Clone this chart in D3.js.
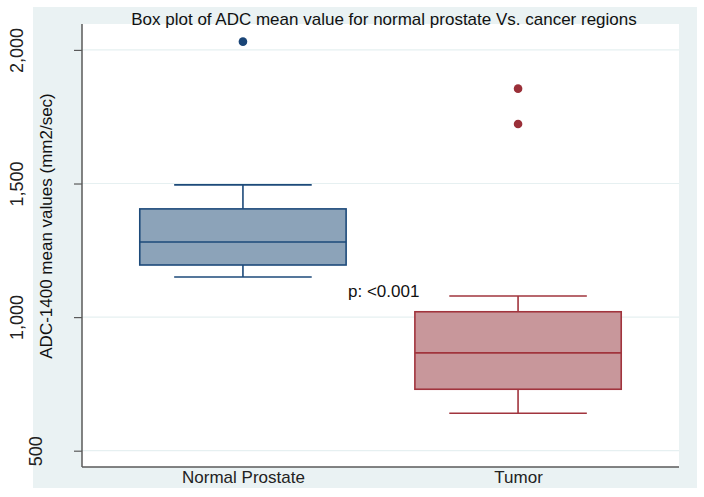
<!DOCTYPE html>
<html>
<head>
<meta charset="utf-8">
<script src="https://cdn.jsdelivr.net/npm/d3@7"></script>
<style>
  html, body { margin: 0; padding: 0; background: #ffffff; }
  svg { display: block; font-family: "Liberation Sans", Arial, sans-serif; }
</style>
</head>
<body>
<svg id="chart" width="704" height="497"></svg>
<script>
// ---- Data ----
const categories = ["Normal Prostate", "Tumor"];
const whiskerLow  = [1150, 640];
const q1          = [1195, 730];
const median      = [1281, 866];
const q3          = [1405, 1020];
const whiskerHigh = [1495, 1079];
const outliers    = [[2031], [1855, 1723]];
const yTicks      = [500, 1000, 1500, 2000];
const title = "Box plot of ADC mean value for normal prostate Vs. cancer regions";
const yTitle = "ADC-1400 mean values (mm2/sec)";
const annotation = "p: <0.001";

// ---- Styles ----
const fills   = ["#8ca3b9", "#c8979b"];
const strokes = ["#1d4a7a", "#a1343d"];
const dotCols = ["#1a4577", "#9a2f38"];

const svg = d3.select("#chart");
const plot = { left: 82, right: 679, top: 24, bottom: 467 };

// outer panel
svg.append("rect").attr("x", 33).attr("y", 7).attr("width", 664).attr("height", 481)
  .attr("fill", "#eaf2f3");
svg.append("rect").attr("x", plot.left).attr("y", plot.top)
  .attr("width", plot.right - plot.left).attr("height", plot.bottom - plot.top)
  .attr("fill", "#ffffff");

const y = d3.scaleLinear().domain([439, 2097]).range([plot.bottom, plot.top]);
const x = d3.scalePoint().domain(categories).range([plot.left, plot.right]).padding(0.585);
const step = x.step();
const boxW = step * 0.75, capW = step * 0.5;

// gridlines
svg.append("g").selectAll("line").data(yTicks).join("line")
  .attr("x1", plot.left).attr("x2", plot.right)
  .attr("y1", d => y(d)).attr("y2", d => y(d))
  .attr("stroke", "#e6f0f1").attr("stroke-width", 1.2);

// y axis
const yAxis = d3.axisLeft(y).tickValues(yTicks).tickSize(8).tickFormat(d3.format(","));
const gy = svg.append("g").attr("transform", `translate(${plot.left},0)`).call(yAxis);
gy.select(".domain").attr("stroke", "#5a5a5a").attr("stroke-width", 1.5)
  .attr("d", `M0,${plot.top}V${plot.bottom}`);
gy.selectAll(".tick line").attr("stroke", "#5a5a5a").attr("stroke-width", 1.2);
gy.selectAll(".tick text")
  .attr("font-size", 18).attr("fill", "#222")
  .attr("text-anchor", "middle")
  .attr("transform", d => `translate(${(String(d).length > 3 ? 23 : 42) - plot.left},0) rotate(-90)`)
  .attr("x", 0).attr("y", 0).attr("dy", 0);

// x axis
const xAxis = d3.axisBottom(x).tickSize(0).tickPadding(0);
const gx = svg.append("g").attr("transform", `translate(0,${plot.bottom})`).call(xAxis);
gx.select(".domain").attr("stroke", "#5a5a5a").attr("stroke-width", 1.5)
  .attr("d", `M${plot.left},0H${plot.right}`);
gx.selectAll(".tick text").attr("font-size", 17).attr("fill", "#222")
  .attr("y", 15.5).attr("dy", 0);

// boxes
const g = svg.append("g");
categories.forEach((c, i) => {
  const cx = x(c);
  const sw = 1.6;
  g.append("line").attr("x1", cx).attr("x2", cx).attr("y1", y(whiskerHigh[i])).attr("y2", y(q3[i]))
    .attr("stroke", strokes[i]).attr("stroke-width", sw);
  g.append("line").attr("x1", cx).attr("x2", cx).attr("y1", y(q1[i])).attr("y2", y(whiskerLow[i]))
    .attr("stroke", strokes[i]).attr("stroke-width", sw);
  [whiskerHigh[i], whiskerLow[i]].forEach(v => {
    g.append("line").attr("x1", cx - capW / 2).attr("x2", cx + capW / 2)
      .attr("y1", y(v)).attr("y2", y(v)).attr("stroke", strokes[i]).attr("stroke-width", sw);
  });
  g.append("rect").attr("x", cx - boxW / 2).attr("width", boxW)
    .attr("y", y(q3[i])).attr("height", y(q1[i]) - y(q3[i]))
    .attr("fill", fills[i]).attr("stroke", strokes[i]).attr("stroke-width", sw);
  g.append("line").attr("x1", cx - boxW / 2).attr("x2", cx + boxW / 2)
    .attr("y1", y(median[i])).attr("y2", y(median[i]))
    .attr("stroke", strokes[i]).attr("stroke-width", sw);
  g.selectAll(null).data(outliers[i]).join("circle")
    .attr("cx", cx).attr("cy", d => y(d)).attr("r", 4.3).attr("fill", dotCols[i]);
});

// title
svg.append("text").attr("x", 384).attr("y", 25).attr("text-anchor", "middle")
  .attr("font-size", 17).attr("fill", "#111").text(title);

// y title
svg.append("text").attr("transform", `translate(52,226) rotate(-90)`)
  .attr("text-anchor", "middle").attr("font-size", 17).attr("fill", "#111").text(yTitle);

// annotation
svg.append("text").attr("x", 348).attr("y", 297).attr("font-size", 17)
  .attr("fill", "#111").text(annotation);
</script>
</body>
</html>
